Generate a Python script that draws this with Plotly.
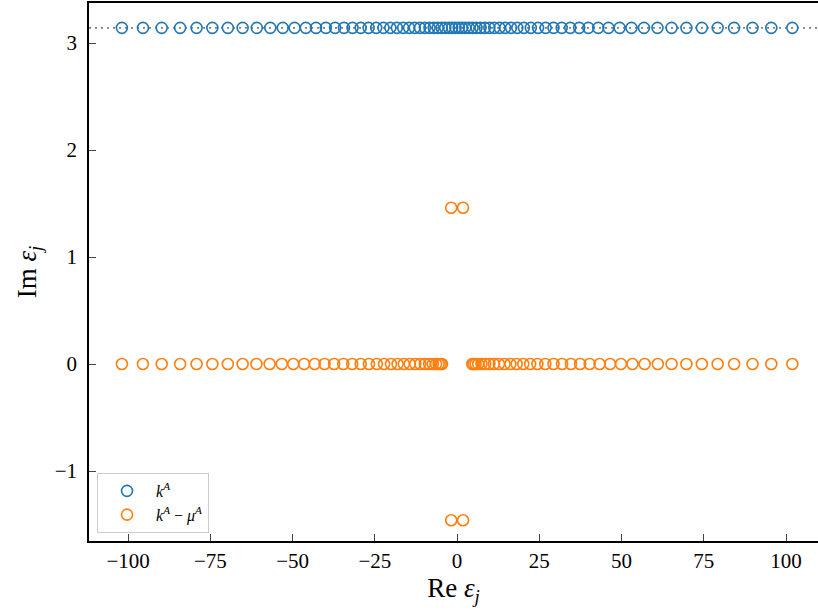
import numpy as np
import plotly.graph_objects as go

# Positive half of the blue series (real parts of k^A); mirrored to negative
k_half = [0.5, 1.5, 2.5, 3.6, 4.7, 5.9, 7.1, 8.4, 9.8, 11.3, 12.9, 14.6, 16.4,
          18.3, 20.3, 22.4, 24.6, 26.9, 29.3, 31.8, 34.4, 37.1, 39.9, 42.9,
          46.0, 49.4, 53.0, 56.8, 60.9, 65.2, 69.7, 74.4, 79.2, 84.2, 89.8,
          95.5, 101.9]
k_im = np.pi

# Positive half of the real orange roots (k^A - mu^A), mirrored
m_half = [4.6, 5.0, 5.6, 6.4, 7.4, 8.5, 9.8, 11.2, 12.7, 14.4, 16.2, 18.1,
          20.1, 22.2, 24.4, 26.8, 29.3, 31.9, 34.6, 37.4, 40.3, 43.3, 46.5,
          49.8, 53.3, 57.0, 61.0, 65.2, 69.7, 74.4, 79.2, 84.2, 89.8, 95.5,
          101.9]
# complex orange pairs
c_re = [-1.8, 1.8, -1.8, 1.8]
c_im = [1.46, 1.46, -1.46, -1.46]

x_ticks = [-100, -75, -50, -25, 0, 25, 50, 75, 100]
y_ticks = [-1, 0, 1, 2, 3]

blue_x = [-v for v in reversed(k_half)] + k_half
blue_y = [k_im] * len(blue_x)
org_x = [-v for v in reversed(m_half)] + m_half + c_re
org_y = [0.0] * (2 * len(m_half)) + c_im

FONT = "Liberation Serif"

fig = go.Figure()
fig.add_trace(go.Scatter(
    x=blue_x, y=blue_y, mode="markers", name="<i>k</i><sup><i>A</i></sup>",
    marker=dict(symbol="circle-open", size=11, color="#1f77b4",
                line=dict(width=1.6, color="#1f77b4")),
))
fig.add_trace(go.Scatter(
    x=org_x, y=org_y, mode="markers",
    name="<i>k</i><sup><i>A</i></sup> − <i>μ</i><sup><i>A</i></sup>",
    marker=dict(symbol="circle-open", size=11, color="#ff7f0e",
                line=dict(width=1.6, color="#ff7f0e")),
))

fig.add_shape(type="line", xref="paper", x0=0, x1=1, yref="y", y0=np.pi, y1=np.pi,
              line=dict(color="#808080", width=1.8, dash="2px,4px"), layer="below")

fig.update_layout(
    width=818, height=610,
    margin=dict(l=89, r=0, t=3, b=69),
    plot_bgcolor="white", paper_bgcolor="white",
    font=dict(family=FONT, size=21, color="black"),
    showlegend=True,
    legend=dict(x=0.011, y=0.015, xanchor="left", yanchor="bottom",
                bgcolor="white", bordercolor="#cccccc", borderwidth=1,
                itemwidth=48, tracegroupgap=0,
                font=dict(family=FONT, size=16)),
    xaxis=dict(range=[-111.9, 109.7], tickvals=x_ticks, ticks="inside",
               ticklen=7, tickwidth=1, showline=True, linecolor="black",
               linewidth=1.5, mirror=True, showgrid=False, zeroline=False,
               title=dict(text="Re <i>ε</i><sub><i>j</i></sub>", font=dict(size=27),
                          standoff=6),
               tickfont=dict(size=21)),
    yaxis=dict(range=[-1.654, 3.374], tickvals=y_ticks, ticks="inside",
               ticklen=7, tickwidth=1, showline=True, linecolor="black",
               linewidth=1.5, mirror=False, showgrid=False, zeroline=False,
               ticklabelstandoff=6,
               title=dict(text="Im <i>ε</i><sub><i>j</i></sub>", font=dict(size=27),
                          standoff=10),
               tickfont=dict(size=21)),
)

fig.write_html("out.html")
